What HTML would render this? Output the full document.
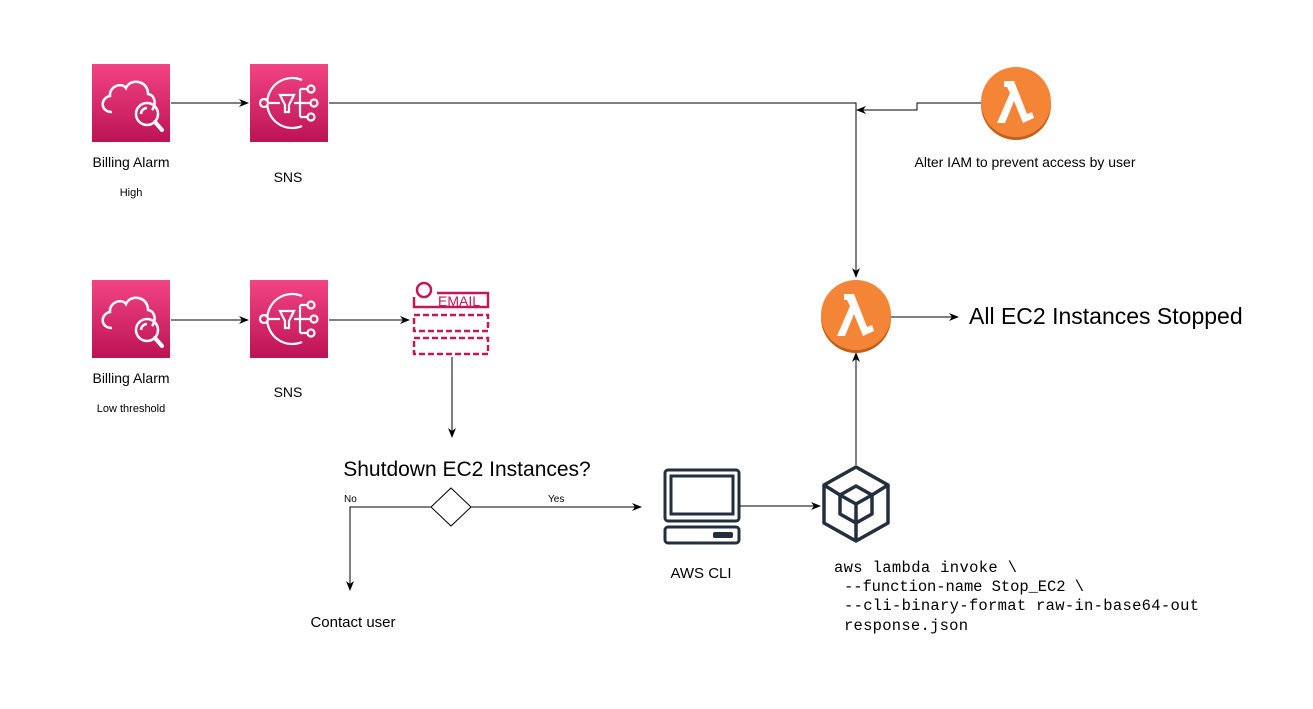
<!DOCTYPE html>
<html><head><style>
body{margin:0;background:#fff;}
.s{font-family:"Liberation Sans",sans-serif;}
.m{font-family:"Liberation Mono",monospace;white-space:pre;}
</style></head><body>
<svg width="1313" height="704" xmlns="http://www.w3.org/2000/svg">
<defs>
<linearGradient id="pk" x1="0" y1="0" x2="0" y2="1"><stop offset="0" stop-color="#f34482"/><stop offset="1" stop-color="#bc1356"/></linearGradient>
<marker id="ar" markerWidth="10" markerHeight="10" refX="9" refY="5" orient="auto" markerUnits="userSpaceOnUse"><path d="M0,1 L10,5 L0,9 L3,5 z" fill="#000"/></marker>
<g id="cw">
<rect x="0" y="0" width="78" height="78" fill="url(#pk)"/>
<path d="M20,48 C8,48 8,34 18,32 C17,22 30,18 34,24 C38,14 56,16 56,30 C64,31 64,42 60,46" fill="none" stroke="#fff" stroke-width="2.5"/>
<circle cx="55" cy="50" r="11" fill="none" stroke="#fff" stroke-width="2.5"/>
<path d="M55,44 a6,6 0 0 0 -6,6" fill="none" stroke="#fff" stroke-width="2.5"/>
<path d="M63,58 L70,66" stroke="#fff" stroke-width="4" stroke-linecap="round"/>
</g>
<g id="sns">
<rect x="0" y="0" width="78" height="78" fill="url(#pk)"/>
<path d="M52,16 A25,25 0 1 0 52,62" fill="none" stroke="#fff" stroke-width="2.2"/>
<circle cx="14" cy="39" r="4" fill="url(#pk)" stroke="#fff" stroke-width="2.2"/>
<line x1="18" y1="39" x2="30" y2="39" stroke="#fff" stroke-width="2.2"/>
<path d="M30,31 L44,31 L39,41 L39,48 L35,48 L35,41 z" fill="none" stroke="#fff" stroke-width="2.2"/>
<line x1="44" y1="39" x2="61" y2="39" stroke="#fff" stroke-width="2.2"/>
<path d="M50,25 L50,53 M50,25 L58,25 M50,53 L58,53" fill="none" stroke="#fff" stroke-width="2.2"/>
<circle cx="61" cy="25" r="3.5" fill="none" stroke="#fff" stroke-width="2.2"/>
<circle cx="64" cy="39" r="3.5" fill="none" stroke="#fff" stroke-width="2.2"/>
<circle cx="61" cy="53" r="3.5" fill="none" stroke="#fff" stroke-width="2.2"/>
</g>
<g id="lam">
<circle cx="0" cy="3" r="35" fill="#c0601a"/>
<circle cx="0" cy="0" r="35" fill="#f58536"/>
<path d="M-12,-21 L-2,-21 L11,12 L16,10 L18,16 L7,21 L-2,-1 L-11,21 L-19,21 L-6,-9 L-9,-15 L-12,-15 z" fill="#fff"/>
</g>
</defs>

<g class="s">
<use href="#cw" x="92" y="64"/>
<use href="#sns" x="250" y="64"/>
<line x1="171" y1="103" x2="248" y2="103" stroke="#000" marker-end="url(#ar)"/>
<text x="131" y="167" font-size="14" text-anchor="middle">Billing Alarm</text>
<text x="131" y="196" font-size="11" text-anchor="middle">High</text>
<text x="288" y="182" font-size="14" text-anchor="middle">SNS</text>
<polyline points="329,103 856,103 856,277" fill="none" stroke="#000" marker-end="url(#ar)"/>
<polyline points="981,103 917,103 917,110 857,110" fill="none" stroke="#000" marker-end="url(#ar)"/>
<use href="#lam" x="1016" y="102"/>
<text x="1025" y="167" font-size="14" text-anchor="middle">Alter IAM to prevent access by user</text>

<use href="#cw" x="92" y="280"/>
<use href="#sns" x="250" y="280"/>
<line x1="171" y1="320" x2="248" y2="320" stroke="#000" marker-end="url(#ar)"/>
<line x1="329" y1="320" x2="409" y2="320" stroke="#000" marker-end="url(#ar)"/>
<text x="131" y="383" font-size="14" text-anchor="middle">Billing Alarm</text>
<text x="131" y="412" font-size="11" text-anchor="middle">Low threshold</text>
<text x="288" y="397" font-size="14" text-anchor="middle">SNS</text>

<g stroke="#c1185a" stroke-width="2.5" fill="none">
<circle cx="424" cy="290" r="7"/>
<path d="M414,297 L414,307 L488,307 L488,293 L437,293"/>
<rect x="414" y="315" width="74" height="16" stroke-dasharray="6,3"/>
<rect x="414" y="338" width="74" height="16" stroke-dasharray="6,3"/>
</g>
<text x="438" y="306" font-size="14" fill="#c1185a">EMAIL</text>
<line x1="452" y1="357" x2="452" y2="437" stroke="#000" marker-end="url(#ar)"/>

<text x="467" y="476" font-size="21" text-anchor="middle">Shutdown EC2 Instances?</text>
<path d="M451,488 L471,507 L451,526 L431,507 z" fill="#fff" stroke="#000"/>
<polyline points="431,507 350,507 350,590" fill="none" stroke="#000" marker-end="url(#ar)"/>
<line x1="471" y1="507" x2="641" y2="507" stroke="#000" marker-end="url(#ar)"/>
<text x="344" y="502" font-size="10">No</text>
<text x="548" y="502" font-size="10">Yes</text>
<text x="353" y="627" font-size="15" text-anchor="middle">Contact user</text>

<g stroke="#232f3e" stroke-width="3" fill="none">
<rect x="665" y="470" width="74" height="51" rx="3"/>
<rect x="671" y="476" width="62" height="38"/>
<rect x="665" y="527" width="74" height="16" rx="3"/>
</g>
<rect x="713" y="532" width="20" height="6" rx="2" fill="#232f3e"/>
<text x="701" y="578" font-size="15" text-anchor="middle">AWS CLI</text>
<line x1="740" y1="506" x2="820" y2="506" stroke="#000" marker-end="url(#ar)"/>

<g stroke="#232f3e" stroke-width="3.5" fill="none" stroke-linejoin="round">
<path d="M856,467 L888,485 L888,523 L856,541 L824,523 L824,485 z"/>
<path d="M856,486 L872,495 L872,514 L856,523 L840,514 L840,495 z"/>
<path d="M840,495 L856,504 L872,495 M856,504 L856,523"/>
<path d="M824,485 L840,495 M888,485 L872,495 M856,523 L856,541"/>
</g>
<line x1="856" y1="465" x2="856" y2="353" stroke="#000" marker-end="url(#ar)"/>
</g>
<g font-size="15.5">
<text x="834" y="572" class="m" textLength="183">aws lambda invoke \</text>
<text x="844" y="591" class="m" textLength="240">--function-name Stop_EC2 \</text>
<text x="844" y="610" class="m" textLength="355">--cli-binary-format raw-in-base64-out</text>
<text x="844" y="630" class="m" textLength="124">response.json</text>
</g>

<use href="#lam" x="856" y="315"/>
<line x1="891" y1="317" x2="958" y2="317" stroke="#000" marker-end="url(#ar)"/>
<text x="969" y="324" font-size="23" class="s">All EC2 Instances Stopped</text>
</svg>
</body></html>
